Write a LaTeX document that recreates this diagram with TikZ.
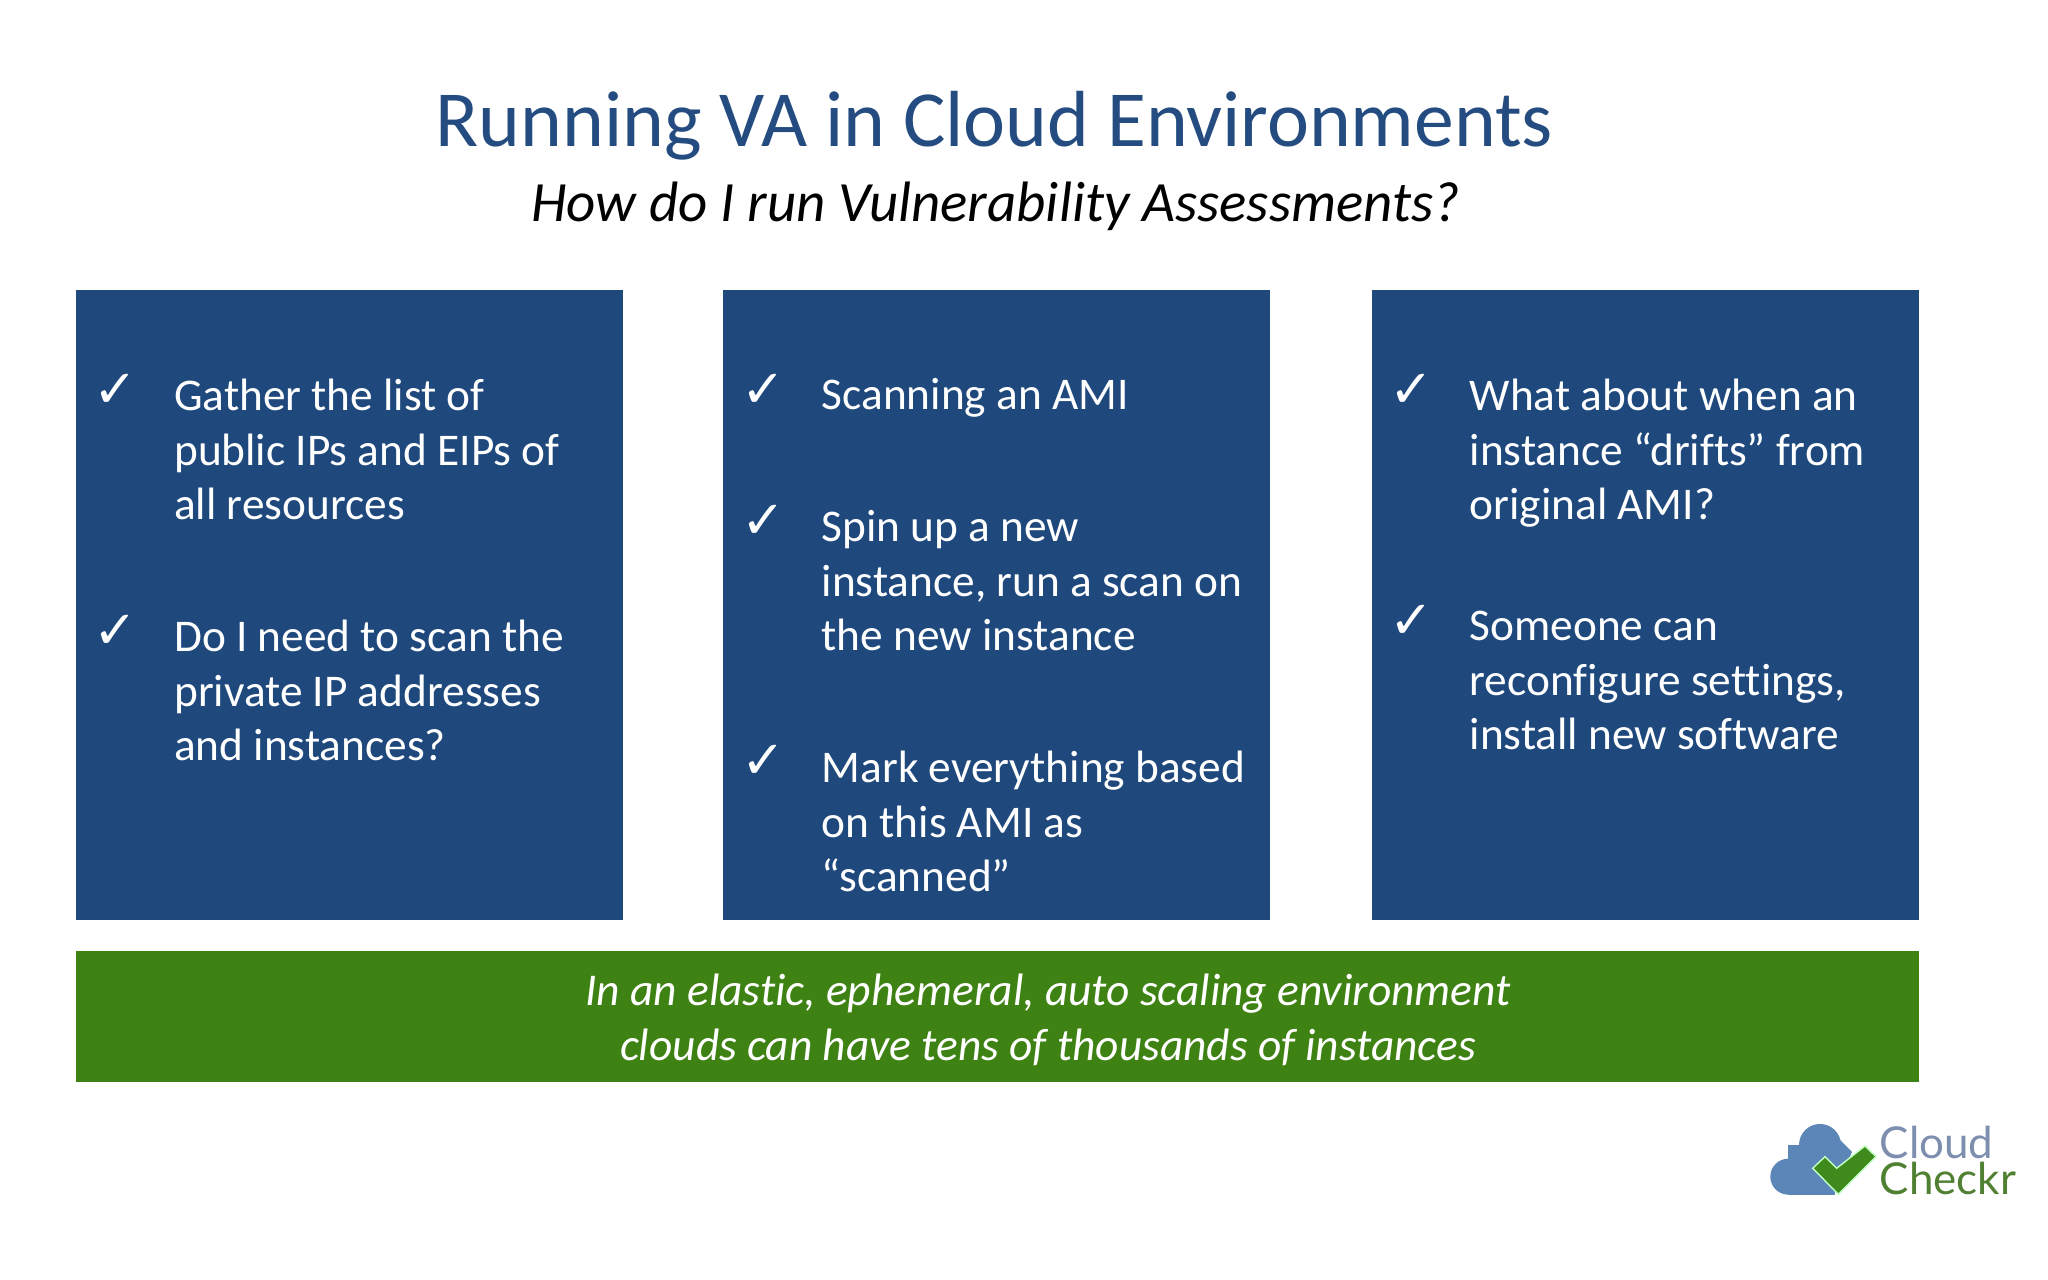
\documentclass[tikz,border=0pt]{standalone}
\usepackage{fontspec}
\usepackage{xcolor}
\setmainfont[Ligatures=NoCommon]{Carlito}
\newfontfamily\symfont{DejaVu Sans}
\newfontfamily\logofont{Lato}
\definecolor{panelblue}{RGB}{31, 73, 125}
\definecolor{bargreen}{RGB}{63, 130, 20}
\definecolor{titleblue}{RGB}{36, 76, 128}
\definecolor{cloudblue}{RGB}{92, 134, 184}
\definecolor{checkgreen}{RGB}{62, 138, 28}
\definecolor{logogrey}{RGB}{126, 142, 174}
\definecolor{logogreen}{RGB}{80, 128, 50}
\usetikzlibrary{positioning}

\begin{document}
\begin{tikzpicture}[
    panel/.style={rectangle, fill=panelblue, minimum width=5.47cm, minimum height=6.30cm, inner sep=0pt},
    item/.style={anchor=base west, align=left, inner sep=0pt, text=white, font=\fontsize{12.9}{15.56}\selectfont},
    tick/.style={inner sep=0pt, text=white, font=\symfont\fontsize{15}{15}\selectfont},
    logotext/.style={anchor=base west, inner sep=0pt, text height=0.33cm, text depth=0cm, font=\logofont\fontsize{12.5}{12.5}\selectfont}
]
    \useasboundingbox (0, 0) rectangle (20.48, 12.8);

    % Heading
    \node[text=titleblue, font=\fontsize{22.64}{26}\selectfont] (title) at (9.945, 11.54) {Running VA in Cloud Environments};
    \node[font=\itshape\fontsize{16.2}{19}\selectfont] (subtitle) at (9.955, 10.74) {How do I run Vulnerability Assessments?};

    % Panels
    \node[panel] (left) at (3.495, 6.75) {};
    \node[panel] (middle) at (9.965, 6.75) {};
    \node[panel] (right) at (16.45, 6.75) {};

    % Left panel
    \node[tick] (tickA) at (1.16, 8.89) {✓};
    \node[item] (gather) at (1.735, 7.60) {Gather the list of\\public IPs and EIPs of\\all resources};
    \node[tick] (tickB) at (1.16, 6.48) {✓};
    \node[item] (private) at (1.735, 5.19) {Do I need to scan the\\private IP addresses\\and instances?};

    % Middle panel
    \node[tick] (tickC) at (7.64, 8.89) {✓};
    \node[item] (scanning) at (8.21, 8.70) {Scanning an AMI};
    \node[tick] (tickD) at (7.64, 7.58) {✓};
    \node[item] (spin) at (8.21, 6.29) {Spin up a new\\instance, run a scan on\\the new instance};
    \node[tick] (tickE) at (7.64, 5.18) {✓};
    \node[item] (mark) at (8.21, 3.88) {Mark everything based\\on this AMI as\\“scanned”};

    % Right panel
    \node[tick] (tickF) at (14.12, 8.89) {✓};
    \node[item] (drift) at (14.69, 7.60) {What about when an\\instance “drifts” from\\original AMI?};
    \node[tick] (tickG) at (14.12, 6.58) {✓};
    \node[item] (someone) at (14.69, 5.30) {Someone can\\reconfigure settings,\\install new software};

    % Bottom bar
    \node[rectangle, fill=bargreen, minimum width=18.43cm, minimum height=1.31cm, inner sep=0pt] (bar) at (9.97, 2.63) {};
    \node[align=center, text=white, font=\itshape\fontsize{12.93}{15.56}\selectfont] (barnote) at (10.48, 2.60) {In an elastic, ephemeral, auto scaling environment\\clouds can have tens of thousands of instances};

    % Logo
    \fill[cloudblue] (18.20, 1.35) circle (0.21) (17.883, 1.033) circle (0.18);
    \fill[cloudblue] (17.883, 0.853) rectangle (18.35, 1.35);
    \fill[cloudblue] (18.00, 1.35) rectangle (18.35, 1.20);
    \fill[cloudblue] (18.35, 1.45) -- (18.52, 1.28) -- (18.35, 0.90) -- cycle;
    \draw[fill=checkgreen, draw=green!25!white, line width=0.4pt] (18.127, 1.117) -- (18.25, 1.233) -- (18.367, 1.117) -- (18.65, 1.34) -- (18.76, 1.233) -- (18.383, 0.857) -- cycle;
    \node[logotext, text=logogrey] (logotop) at (18.79, 1.21) {Cloud};
    \node[logotext, text=logogreen] (logobottom) at (18.79, 0.85) {Checkr};
\end{tikzpicture}
\end{document}
